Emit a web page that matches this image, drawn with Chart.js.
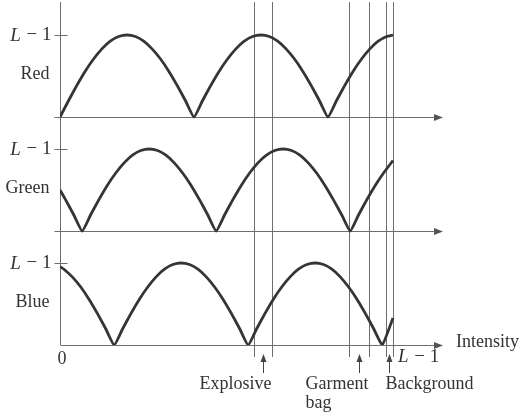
<!DOCTYPE html>
<html>
<head>
<meta charset="utf-8">
<script src="https://cdn.jsdelivr.net/npm/chart.js@4/dist/chart.umd.min.js"></script>
<style>
  html, body { margin: 0; padding: 0; background: #fff; }
  #wrap { width: 531px; height: 415px; position: relative; }
</style>
</head>
<body>
<div id="wrap"><canvas id="rgbChart"></canvas></div>
<script>
// intensity axis runs 0 .. L-1 (255); values are fraction of L-1
const redX = [0, 6.4, 12.8, 19.2, 25.7, 32.1, 38.5, 44.9, 51.3, 57.7, 64.1, 70.5, 77, 83.4, 89.8, 96.2, 102.6,
  109, 115.4, 121.8, 128.3, 134.7, 141.1, 147.5, 153.9, 160.3, 166.7, 173.1, 179.6, 186, 192.4, 198.8, 205.2,
  211.6, 218, 224.4, 230.9, 237.3, 243.7, 250.1, 255];
const redY = [0, .195, .383, .556, .707, .831, .924, .981, 1, .981, .924, .831, .707, .556, .383, .195, 0,
  .195, .383, .556, .707, .831, .924, .981, 1, .981, .924, .831, .707, .556, .383, .195, 0,
  .195, .383, .556, .707, .831, .924, .981, .999];

const greenX = [0, 4.2, 10.6, 17,
  23.4, 29.8, 36.2, 42.7, 49.1, 55.5, 61.9, 68.3, 74.7, 81.1, 87.5, 93.9, 100.4, 106.8, 113.2, 119.6,
  126, 132.4, 138.8, 145.2, 151.6, 158.1, 164.5, 170.9, 177.3, 183.7, 190.1, 196.5, 202.9, 209.3, 215.8, 222.2,
  228.6, 235, 241.4, 247.8, 255];
const greenY = [.5, .383, .195, 0,
  .195, .383, .556, .707, .831, .924, .981, 1, .981, .924, .831, .707, .556, .383, .195, 0,
  .195, .383, .556, .707, .831, .924, .981, 1, .981, .924, .831, .707, .556, .383, .195, 0,
  .195, .383, .556, .707, .86];

const blueX = [0, 3, 9.4, 15.9, 22.3, 28.7, 35.1, 41.5,
  47.9, 54.3, 60.7, 67.2, 73.6, 80, 86.4, 92.8, 99.2, 105.6, 112, 118.4, 124.9, 131.3, 137.7, 144.1,
  150.5, 156.9, 163.3, 169.8, 176.2, 182.6, 189, 195.4, 201.8, 208.2, 214.6, 221, 227.5, 233.9, 240.3, 246.7,
  255];
const blueY = [.955, .924, .831, .707, .556, .383, .195, 0,
  .195, .383, .556, .707, .831, .924, .981, 1, .981, .924, .831, .707, .556, .383, .195, 0,
  .195, .383, .556, .707, .831, .924, .981, 1, .981, .924, .831, .707, .556, .383, .195, 0,
  .33];

const channelNames = ['Red', 'Green', 'Blue'];
const bandLines = [148.8, 162.6, 221.5, 236.9, 249.4, 255];
const objectNames = ['Explosive', 'Garment|bag', 'Background'];
const objectPos = [155.5, 229, 252];

const curveColor = '#353535';
const lineColor = '#6e6e6e';
const textColor = '#333';
const serif = '"Liberation Serif", "DejaVu Serif", serif';

function pts(xs, ys) {
    return xs.map((x, i) => ({ x: x, y: ys[i] }));
}

// "L - 1" with italic L
function drawLminus1(ctx, x, y, align) {
    ctx.font = 'italic 19px ' + serif;
    const wL = ctx.measureText('L').width;
    ctx.font = '19px ' + serif;
    const rest = ' \u2212 1';
    const wR = ctx.measureText(rest).width;
    let left = align === 'right' ? x - wL - wR : x;
    ctx.textAlign = 'left';
    ctx.font = 'italic 19px ' + serif;
    ctx.fillText('L', left, y);
    ctx.font = '19px ' + serif;
    ctx.fillText(rest, left + wL + 1, y);
}

const decorPlugin = {
    id: 'decor',
    beforeDatasetsDraw(chart) {
        const ctx = chart.ctx;
        const xs = chart.scales.x;
        const area = chart.chartArea;
        ctx.save();
        ctx.strokeStyle = lineColor;
        ctx.lineWidth = 1;
        // object band boundaries
        bandLines.forEach(v => {
            const px = Math.round(xs.getPixelForValue(v)) + 0.5;
            ctx.beginPath();
            ctx.moveTo(px, 2);
            ctx.lineTo(px, 357);
            ctx.stroke();
        });
        // vertical axis
        const x0 = Math.round(xs.getPixelForValue(0)) + 0.5;
        ctx.beginPath();
        ctx.moveTo(x0, 2);
        ctx.lineTo(x0, area.bottom);
        ctx.stroke();
        ['yR', 'yG', 'yB'].forEach((id, i) => {
            const ys = chart.scales[id];
            const by = Math.round(ys.getPixelForValue(0)) + 0.5;
            const ty = Math.round(ys.getPixelForValue(1)) + 0.5;
            ctx.strokeStyle = lineColor;
            ctx.beginPath();
            ctx.moveTo(i === 2 ? x0 : x0 - 6, by);
            ctx.lineTo(area.right - 7, by);
            ctx.stroke();
            // arrow head
            ctx.fillStyle = '#555';
            ctx.beginPath();
            ctx.moveTo(area.right, by);
            ctx.lineTo(area.right - 9, by - 3.5);
            ctx.lineTo(area.right - 9, by + 3.5);
            ctx.closePath();
            ctx.fill();
            // L-1 tick
            ctx.beginPath();
            ctx.moveTo(x0 - 6, ty);
            ctx.lineTo(x0 + 7, ty);
            ctx.stroke();
            ctx.fillStyle = textColor;
            ctx.textBaseline = 'middle';
            drawLminus1(ctx, x0 - 10, ty, 'right');
            ctx.font = '18px ' + serif;
            ctx.textAlign = 'right';
            ctx.fillText(channelNames[i], x0 - 11, ys.getPixelForValue(0.52));
        });
        ctx.restore();
    },
    afterDatasetsDraw(chart) {
        const ctx = chart.ctx;
        const xs = chart.scales.x;
        const area = chart.chartArea;
        ctx.save();
        ctx.fillStyle = textColor;
        ctx.textBaseline = 'middle';
        ctx.font = '18px ' + serif;
        ctx.textAlign = 'center';
        ctx.fillText('0', xs.getPixelForValue(0) + 2, 359);
        drawLminus1(ctx, xs.getPixelForValue(255) + 5, 357, 'left');
        ctx.font = '18px ' + serif;
        ctx.textAlign = 'left';
        ctx.fillText('Intensity', area.right + 13, area.bottom - 3);
        // object arrows and labels
        objectPos.forEach((v, i) => {
            const px = Math.round(xs.getPixelForValue(v)) + 0.5;
            ctx.strokeStyle = '#444';
            ctx.lineWidth = 1;
            ctx.beginPath();
            ctx.moveTo(px, 373);
            ctx.lineTo(px, 358);
            ctx.stroke();
            ctx.fillStyle = '#444';
            ctx.beginPath();
            ctx.moveTo(px, 354);
            ctx.lineTo(px - 3, 362);
            ctx.lineTo(px + 3, 362);
            ctx.closePath();
            ctx.fill();
            ctx.fillStyle = textColor;
            ctx.font = '18px ' + serif;
            const parts = objectNames[i].split('|');
            if (i === 0) {
                ctx.textAlign = 'right';
                ctx.fillText(parts[0], px + 8, 384);
            } else if (i === 1) {
                ctx.textAlign = 'left';
                ctx.fillText(parts[0], px - 54, 384);
                ctx.fillText(parts[1], px - 54, 403);
            } else {
                ctx.textAlign = 'left';
                ctx.fillText(parts[0], px - 4, 384);
            }
        });
        ctx.restore();
    }
};

const ctxRGB = document.getElementById('rgbChart');

new Chart(ctxRGB, {
    type: 'line',
    data: {
        datasets: [
            { data: pts(redX, redY), yAxisID: 'yR' },
            { data: pts(greenX, greenY), yAxisID: 'yG' },
            { data: pts(blueX, blueY), yAxisID: 'yB' }
        ]
    },
    options: {
        responsive: true,
        maintainAspectRatio: false,
        animation: false,
        layout: {
            padding: { left: 60, right: 88, top: 3, bottom: 70 }
        },
        elements: {
            line: { borderColor: curveColor, borderWidth: 2.8, tension: 0.15, fill: false },
            point: { radius: 0 }
        },
        scales: {
            x: { type: 'linear', min: 0, max: 293.3, display: false },
            yR: { min: -2.78, max: 1.39, display: false },
            yG: { min: -1.39, max: 2.78, display: false },
            yB: { min: 0, max: 4.17, display: false }
        },
        plugins: {
            legend: { display: false },
            tooltip: { enabled: false }
        }
    },
    plugins: [decorPlugin]
});
</script>
</body>
</html>
